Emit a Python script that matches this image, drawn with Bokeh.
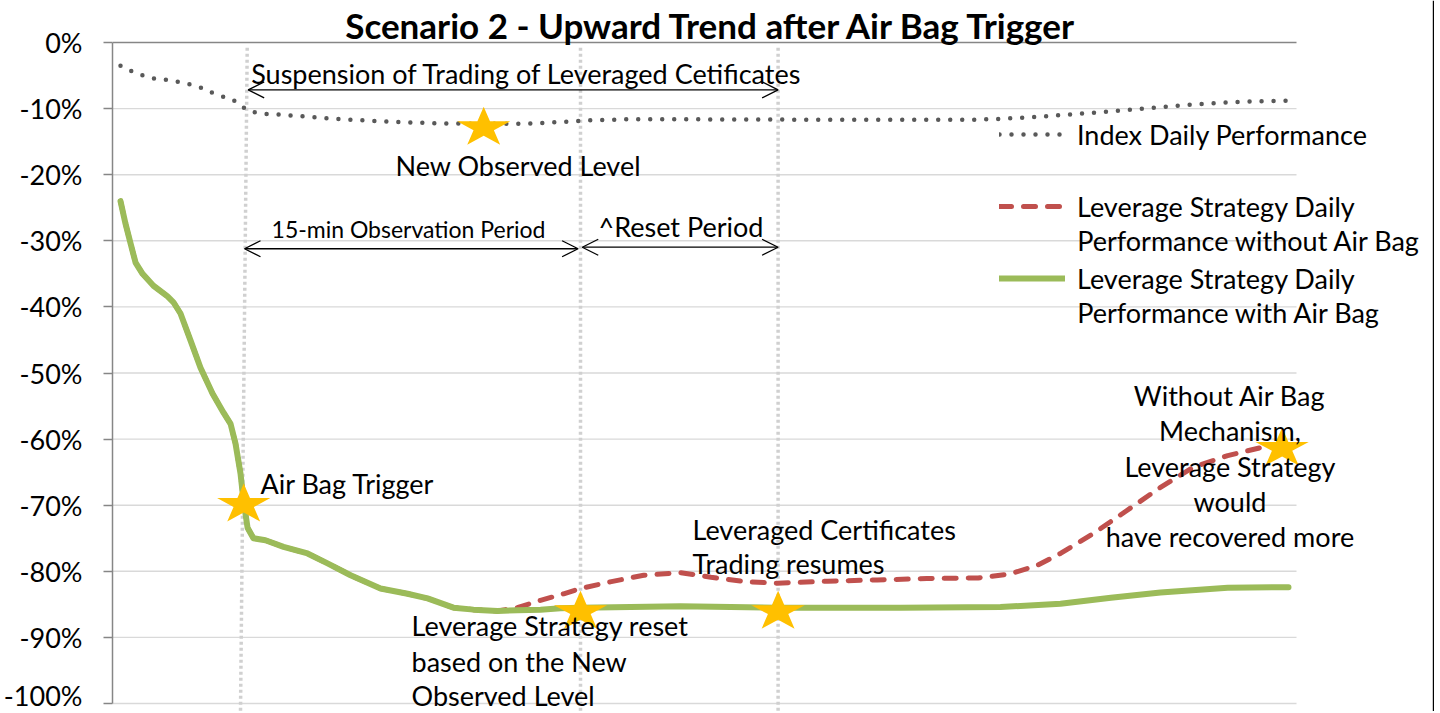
import math
from bokeh.plotting import figure
from bokeh.models import (Range1d, FixedTicker, PrintfTickFormatter, Label, Span,
                          Arrow, OpenHead, Legend, LegendItem)
from bokeh.embed import file_html
from bokeh.resources import INLINE

# ---------------- data (x = time step, y = daily performance in %) ----------------
index_x = [0, 1, 2, 3, 4, 5, 6, 7, 8, 9, 10, 12, 14, 17, 20, 23, 25, 27, 29, 32, 35, 38,
           41, 44, 47, 50, 53, 55, 57, 59, 61, 63, 65, 67, 69, 71, 73]
index_y = [-3.5, -4.7, -5.4, -5.7, -6.1, -6.8, -7.9, -8.6, -10.4, -10.8, -10.9, -11.3, -11.65,
           -12.0, -12.25, -12.3, -12.3, -12.1, -11.8, -11.6, -11.6, -11.65, -11.65, -11.7,
           -11.7, -11.7, -11.7, -11.55, -11.3, -10.95, -10.6, -10.2, -9.8, -9.4, -9.1, -8.9, -8.8]

with_bag_x = [0, 0.31, 0.63, 0.94, 1.38, 2.06, 2.94, 3.31, 3.75, 4.38, 5.0, 5.75, 6.44, 6.88,
              7.19, 7.5, 7.69, 7.94, 8.31, 9.06, 10.19, 11.69, 12.94, 14.38, 16.25, 17.94,
              19.19, 20.81, 22.06, 23.56, 24.81, 26.25, 27.5, 28.75, 35, 41, 48.75, 55, 58.75,
              61.9, 65, 69.2, 73]
with_bag_y = [-24.0, -27.4, -30.4, -33.3, -35.0, -36.8, -38.4, -39.3, -41.0, -45.1, -49.2,
              -53.1, -56.0, -57.7, -60.7, -65.2, -69.3, -73.4, -75.0, -75.3, -76.3, -77.3,
              -78.8, -80.6, -82.6, -83.4, -84.1, -85.5, -85.8, -86.0, -85.9, -85.8, -85.6,
              -85.5, -85.3, -85.5, -85.5, -85.4, -84.9, -84.0, -83.2, -82.5, -82.4]

without_bag_x = [0, 0.31, 0.63, 0.94, 1.38, 2.06, 2.94, 3.31, 3.75, 4.38, 5.0, 5.75, 6.44, 6.88,
                 7.19, 7.5, 7.69, 7.94, 8.31, 9.06, 10.19, 11.69, 12.94, 14.38, 16.25, 17.94,
                 19.19, 20.81, 22.06, 23.56, 24.8, 26.25, 27.7, 28.75, 30.6, 32.7, 35, 36.9,
                 39.2, 41.06, 44.2, 47.3, 50.4, 53.6, 55.6, 57.3, 58.75, 60.8, 62.9, 65, 67.1,
                 69.2, 71.25, 73]
without_bag_y = [-24.0, -27.4, -30.4, -33.3, -35.0, -36.8, -38.4, -39.3, -41.0, -45.1, -49.2,
                 -53.1, -56.0, -57.7, -60.7, -65.2, -69.3, -73.4, -75.0, -75.3, -76.3, -77.3,
                 -78.8, -80.6, -82.6, -83.4, -84.1, -85.5, -85.8, -86.0, -85.5, -84.4, -83.4,
                 -82.6, -81.6, -80.6, -80.2, -80.9, -81.6, -81.8, -81.5, -81.3, -81.1, -81.0,
                 -80.4, -79.1, -77.3, -74.3, -70.8, -67.3, -64.2, -62.5, -61.3, -61.0]

# key events (stars)
star_x = [7.7, 22.7, 28.75, 41.1, 72.6]
star_y = [-69.6, -12.6, -85.8, -85.8, -61.1]

# vertical event markers (time steps)
event_x_top = [7.92, 28.75, 41.1]
event_x_bottom = [7.5, 28.75, 41.1]

y_ticks = [0, -10, -20, -30, -40, -50, -60, -70, -80, -90, -100]
x_first, x_last = -0.5, 73.5   # category extent of the time axis

series_names = ["Index Daily Performance", "Leverage Strategy Daily", "Leverage Strategy Daily"]

# ---------------- figure ----------------
FONT = "Lato"
W, H = 1434, 711
LEFT = 112
PX_X = 16.0      # px per time step
PX_Y = 6.61      # px per 1 %
TOP_PX = 42      # px of 0 % from top
x_end = x_first + (W - LEFT) / PX_X
y_top = TOP_PX / PX_Y
y_bot = -100 - (H - (TOP_PX + 100 * PX_Y)) / PX_Y

p = figure(width=W, height=H, output_backend="svg", toolbar_location=None,
           x_range=Range1d(x_first, x_end), y_range=Range1d(y_bot, y_top),
           x_axis_location=None, min_border_left=LEFT, min_border_right=0,
           min_border_top=0, min_border_bottom=0)
p.outline_line_color = None
p.background_fill_color = "white"
p.border_fill_color = "white"

# y axis
p.yaxis.ticker = FixedTicker(ticks=y_ticks)
p.yaxis.bounds = (min(y_ticks), max(y_ticks))
p.yaxis.formatter = PrintfTickFormatter(format="%d%%")
p.yaxis.axis_line_color = "#868686"
p.yaxis.axis_line_width = 1.5
p.yaxis.major_tick_line_color = "#868686"
p.yaxis.major_tick_line_width = 1.5
p.yaxis.major_tick_out = 9
p.yaxis.major_tick_in = 0
p.yaxis.minor_tick_line_color = None
p.yaxis.major_label_text_font = FONT
p.yaxis.major_label_text_font_size = "27px"
p.yaxis.major_label_text_color = "black"
p.yaxis.major_label_standoff = 21
p.grid.visible = False

# horizontal gridlines (0 % line is the category axis, darker)
grid_colors = ["#868686" if t == 0 else "#D9D9D9" for t in y_ticks]
p.segment(x0=[x_first] * len(y_ticks), y0=y_ticks, x1=[x_last] * len(y_ticks), y1=y_ticks,
          line_color=grid_colors, line_width=1.4)

# vertical event markers
p.segment(x0=event_x_top, y0=[-0.8] * len(event_x_top), x1=event_x_bottom,
          y1=[y_bot] * len(event_x_bottom), line_color="#D0D0D0", line_width=3.5,
          line_dash="3 3")

# series
r_idx = p.line(index_x, index_y, line_color="#595959", line_width=4.5, line_dash="0 12",
               line_cap="round", line_join="round")
r_red = p.line(without_bag_x, without_bag_y, line_color="#C0504D", line_width=5,
               line_dash="12 12", line_cap="round", line_join="round")
r_grn = p.line(with_bag_x, with_bag_y, line_color="#9BBB59", line_width=6,
               line_cap="round", line_join="round")

# stars
STAR_R = 28
STAR_SQUASH = 0.75
unit = []
for k in range(10):
    a = math.pi / 2 + k * math.pi / 5
    r = 1.0 if k % 2 == 0 else 0.382
    unit.append((r * math.cos(a), r * math.sin(a)))
ymid = (1 - math.cos(math.pi / 5)) / 2
star_xs = [[sx + STAR_R * u / PX_X for u, _ in unit] for sx in star_x]
star_ys = [[sy + STAR_R * STAR_SQUASH * (v - ymid) / PX_Y for _, v in unit] for sy in star_y]
p.patches(star_xs, star_ys, fill_color="#FFC000", line_color=None)

# chart border on the right
p.add_layout(Span(location=x_end - 0.06, dimension="height", line_color="black",
                  line_width=1.5))

# arrows
def add_arrow(x0, x1, y):
    p.add_layout(Arrow(start=OpenHead(size=16, line_width=1.3, line_color="black"),
                       end=OpenHead(size=16, line_width=1.3, line_color="black"),
                       x_start=x0, y_start=y, x_end=x1, y_end=y,
                       line_color="black", line_width=1.3))

add_arrow(7.98, 41.1, -7.16)
add_arrow(7.75, 28.6, -31.2)
add_arrow(28.86, 41.1, -30.97)

# texts (y given as the text's baseline)
BASE_SHIFT = 0.38
def add_text(txt, x, y, size=27, align="left", bold=False):
    yy = y + BASE_SHIFT * size / PX_Y
    p.add_layout(Label(x=x, y=yy, text=txt, text_font=FONT, text_font_size=f"{size}px",
                       text_align=align, text_baseline="alphabetic", text_color="black",
                       text_font_style="bold" if bold else "normal"))

add_text("Scenario 2 - Upward Trend after Air Bag Trigger", 36.97, 0.71, size=35,
         align="center", bold=True)
add_text("Suspension of Trading of Leveraged Cetificates", 8.17, -6.25)
add_text("New Observed Level", 17.19, -20.12)
add_text("15-min Observation Period", 9.44, -29.5, size=23)
add_text("^Reset Period", 29.875, -29.46)
add_text("Air Bag Trigger", 8.75, -68.28)
add_text("Leveraged Certificates", 35.75, -75.19)
add_text("Trading resumes", 35.75, -80.38)
add_text("Leverage Strategy reset", 18.19, -89.71)
add_text("based on the New", 18.19, -95.16)
add_text("Observed Level", 18.19, -100.3)
for t, yy in zip(["Without Air Bag", "Mechanism,", "Leverage Strategy", "would",
                  "have recovered more"], [-54.92, -60.21, -65.66, -71.06, -76.35]):
    add_text(t, 69.34, yy, align="center")
add_text("Performance without Air Bag", 59.79, -31.57)
add_text("Performance with Air Bag", 59.79, -42.4)

# legend
legend = Legend(items=[LegendItem(label=series_names[0], renderers=[r_idx]),
                       LegendItem(label=series_names[1], renderers=[r_red]),
                       LegendItem(label=series_names[2], renderers=[r_grn])],
                location=(887, H - 296.3), orientation="vertical", glyph_width=66,
                glyph_height=36, label_height=36, spacing=36, label_standoff=12,
                padding=0, margin=0, border_line_color=None, background_fill_alpha=0,
                label_text_font=FONT, label_text_font_size="27px", label_text_color="black")
p.add_layout(legend, "center")

open("out.html", "w").write(file_html(p, INLINE))
